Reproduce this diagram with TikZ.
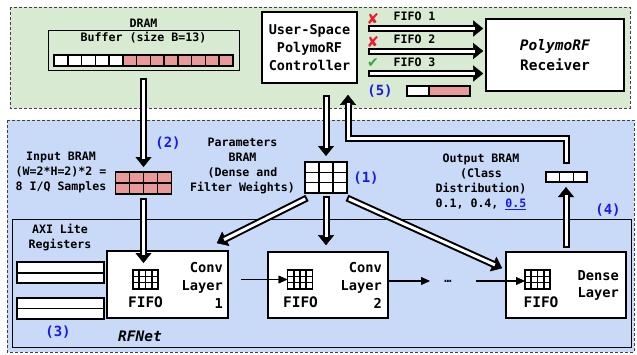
\documentclass[tikz,border=0pt]{standalone}
\usepackage{fontspec}
\setmainfont{DejaVu Sans Mono}[BoldFont={DejaVu Sans Mono Bold},ItalicFont={DejaVu Sans Mono Oblique},BoldItalicFont={DejaVu Sans Mono Bold Oblique}]
\newfontfamily\symfont{DejaVu Sans}
\usetikzlibrary{arrows.meta,calc}
\definecolor{gfill}{HTML}{D9EAD3}
\definecolor{bfill}{HTML}{C9DAF8}
\definecolor{pinkc}{HTML}{EA9999}
\definecolor{lblue}{RGB}{25,25,235}
\definecolor{xred}{HTML}{E8202E}
\definecolor{ckgreen}{HTML}{3AA53A}
\newcommand{\fs}[2]{\fontsize{#1}{#2}\selectfont\bfseries}
\newcommand{\gridcols}[3]{\foreach \i in {#2} \draw[gl] ($(#1.south west)!\i/#3!(#1.south east)$) -- ($(#1.north west)!\i/#3!(#1.north east)$);}
\newcommand{\gridrows}[3]{\foreach \i in {#2} \draw[gl] ($(#1.south west)!\i/#3!(#1.north west)$) -- ($(#1.south east)!\i/#3!(#1.north east)$);}
\begin{document}
\begin{tikzpicture}[x=1pt,y=-1pt,
  region/.style={draw=black!75, dash pattern=on 3pt off 2pt, line width=0.9pt},
  box/.style={draw, line width=1.6pt, fill=white, inner sep=0},
  txt/.style={inner sep=0, font=\fs{11.6}{15}, align=center},
  num/.style={inner sep=0, text=lblue, font=\fs{14}{16}},
  gridn/.style={draw, line width=1.6pt, inner sep=0, outer sep=0pt},
  gl/.style={line width=1.6pt},
  dbl/.style 2 args={line width=7pt, shorten <=#1, shorten >=#2,
    -{Triangle[length=10pt,width=16pt,line width=0.4pt]},
    postaction={draw=white, line width=3pt, -, shorten <=#1+2pt, shorten >=#2+8pt}},
  tarrow/.style={line width=1.5pt, -{Triangle[length=9pt,width=8pt,line width=0.4pt]}}
]
\useasboundingbox (0,0) rectangle (637,354);
% regions
\draw[region, fill=gfill] (10,7) rectangle (630,108);
\draw[region, fill=bfill] (7,120) rectangle (634,352);
\draw[line width=0.9pt] (12,219) rectangle (631,347);

% DRAM buffer
\node[txt] (dramt) at (143.5,23) {DRAM};
\node[draw, line width=1pt, minimum width=191, minimum height=40, inner sep=0] (buf) at (143.5,50) {};
\node[txt] (buft) at (143.5,38) {Buffer (size B=13)};
\foreach \i in {0,...,4} \draw[gl, fill=white] ({54+\i*13.769},55) rectangle ++(13.769,11);
\foreach \i in {5,...,12} \draw[gl, fill=pinkc] ({54+\i*13.769},55) rectangle ++(13.769,11);

% controller and receiver
\node[box, minimum width=95, minimum height=71, font=\fs{13.5}{18}, align=center] (ctrl) at (309.5,47.5) {User-Space\\PolymoRF\\Controller};
\node[box, minimum width=138, minimum height=72, font=\fs{14.5}{20}, align=center] (rec) at (555,55) {\textit{PolymoRF}\\Receiver};

% FIFO arrows
\draw[dbl={10pt}{2pt}] ([yshift=19pt]ctrl.east) -- ([yshift=19pt]ctrl.east -| rec.west);
\draw[dbl={10pt}{2pt}] ([yshift=-3.5pt]ctrl.east) -- ([yshift=-3.5pt]ctrl.east -| rec.west);
\draw[dbl={10pt}{2pt}] ([yshift=-26pt]ctrl.east) -- ([yshift=-26pt]ctrl.east -| rec.west);
\node[txt] (ff1) at (414.5,16.5) {FIFO 1};
\node[txt] (ff2) at (414.5,39) {FIFO 2};
\node[txt] (ff3) at (414.5,62) {FIFO 3};
\node[inner sep=0, text=xred, font=\symfont\fontsize{15}{15}\selectfont] (x1) at (373,18.5) {✘};
\node[inner sep=0, text=xred, font=\symfont\fontsize{15}{15}\selectfont] (x2) at (373,41.5) {✘};
\node[inner sep=0, text=ckgreen, font=\symfont\fontsize{14}{14}\selectfont] (ck) at (373,63) {✔};
\node[num] (n5) at (380,91) {(5)};
\draw[gl, fill=white] (407,86) rectangle (429,96);
\draw[gl, fill=pinkc] (429,86) rectangle (470,96);

% BRAM grids
\node[gridn, fill=pinkc, minimum width=56, minimum height=22] (inb) at (143.5,183) {};
\gridcols{inb}{1,2,3}{4}
\gridrows{inb}{1}{2}
\node[gridn, fill=white, minimum width=42, minimum height=31] (par) at (326,177.5) {};
\gridcols{par}{1,2}{3}
\gridrows{par}{1,2}{3}
\node[gridn, fill=white, minimum width=41, minimum height=10] (outb) at (566.5,177) {};
\gridcols{outb}{1,2}{3}

\node[txt] (inbt) at (61,172) {Input BRAM\\(W=2*H=2)*2 =\\8 I/Q Samples};
\node[txt] (part) at (242.5,165.5) {Parameters\\BRAM\\(Dense and\\Filter Weights)};
\node[txt] (outt) at (481,182) {Output BRAM\\(Class\\Distribution)\\0.1, 0.4, \textcolor{lblue}{\underline{0.5}}};
\node[num] (n2) at (168,143) {(2)};
\node[num] (n1) at (366,178) {(1)};
\node[num] (n4) at (608,210) {(4)};

% AXI registers
\node[txt] (axit) at (60,237.5) {AXI Lite\\Registers};
\draw[line width=1.8pt, fill=white] (17,262) rectangle (104,283);
\draw[line width=1.8pt] (17,272.7) -- (104,272.7);
\draw[line width=1.8pt, fill=white] (17,298) rectangle (104,319);
\draw[line width=1.8pt] (17,308.5) -- (104,308.5);
\node[num] (n3) at (58,332) {(3)};
\node[inner sep=0, font=\fs{14.5}{16}\itshape] (rfn) at (140,336) {RFNet};

% layers
\node[box, minimum width=121, minimum height=67] (c1) at (167.5,284.5) {};
\node[box, minimum width=120, minimum height=66] (c2) at (328,285) {};
\node[box, minimum width=120, minimum height=66] (c3) at (566,285) {};
\node[gridn, line width=1.5pt, fill=white, minimum width=25, minimum height=19] (f1) at (145.5,279.5) {};
\node[gridn, line width=1.5pt, fill=white, minimum width=25, minimum height=19] (f2) at (300,279.5) {};
\node[gridn, line width=1.5pt, fill=white, minimum width=25, minimum height=19] (f3) at (537.5,279.5) {};
\foreach \f in {f1,f2,f3} {\gridcols{\f}{1,2,3}{4} \gridrows{\f}{1,2}{3}}
\node[txt, font=\fs{14.5}{16}] (fl1) at (145.5,302.5) {FIFO};
\node[txt, font=\fs{14.5}{16}] (fl2) at (300.5,302.5) {FIFO};
\node[txt, font=\fs{14.5}{16}] (fl3) at (541,302.5) {FIFO};
\node[anchor=east, align=right, inner sep=0, font=\fs{13.7}{18}] (c1t) at (223,285.5) {Conv\\Layer\\1};
\node[anchor=east, align=right, inner sep=0, font=\fs{13.7}{18}] (c2t) at (382,285.5) {Conv\\Layer\\2};
\node[anchor=east, align=right, inner sep=0, font=\fs{13.7}{17}] (c3t) at (619,285.5) {Dense\\Layer};
\node[inner sep=0, font=\fs{12}{12}] (dots) at (448,281) {…};

% thin arrows
\draw[tarrow, shorten <=12pt] (c1.east |- f2.west) -- (f2.west);
\draw[tarrow, shorten >=18pt] (c2.east |- dots.center) -- (dots.center);
\draw[tarrow, shorten <=28pt] (dots.center) -- (dots.center -| f3.west);

% double arrows
\draw[dbl={7pt}{5pt}] (buf.south) -- (buf.south |- inb.north);
\draw[dbl={4pt}{7pt}] (inb.south) -- (inb.south |- f1.north);
\draw[dbl={11pt}{6pt}] (par.north |- ctrl.south) -- (par.north);
\draw[dbl={3pt}{6pt}] (par.south) -- (par.south |- c2.north);
\draw[dbl={0pt}{0pt}] ($(par.south west)+(2,5)$) -- ($(c1.north east)+(-12,-7)$);
\draw[dbl={0pt}{0pt}] ($(par.south east)+(0,5)$) -- ($(c3.north west)+(-3,17)$);
\draw[dbl={3pt}{5pt}] (c3.north) -- (c3.north |- outb.south);
\draw[dbl={8pt}{11pt}] (outb.north) -- ++(0,-34) -| ([xshift=38.5pt]ctrl.south);
\end{tikzpicture}
\end{document}
